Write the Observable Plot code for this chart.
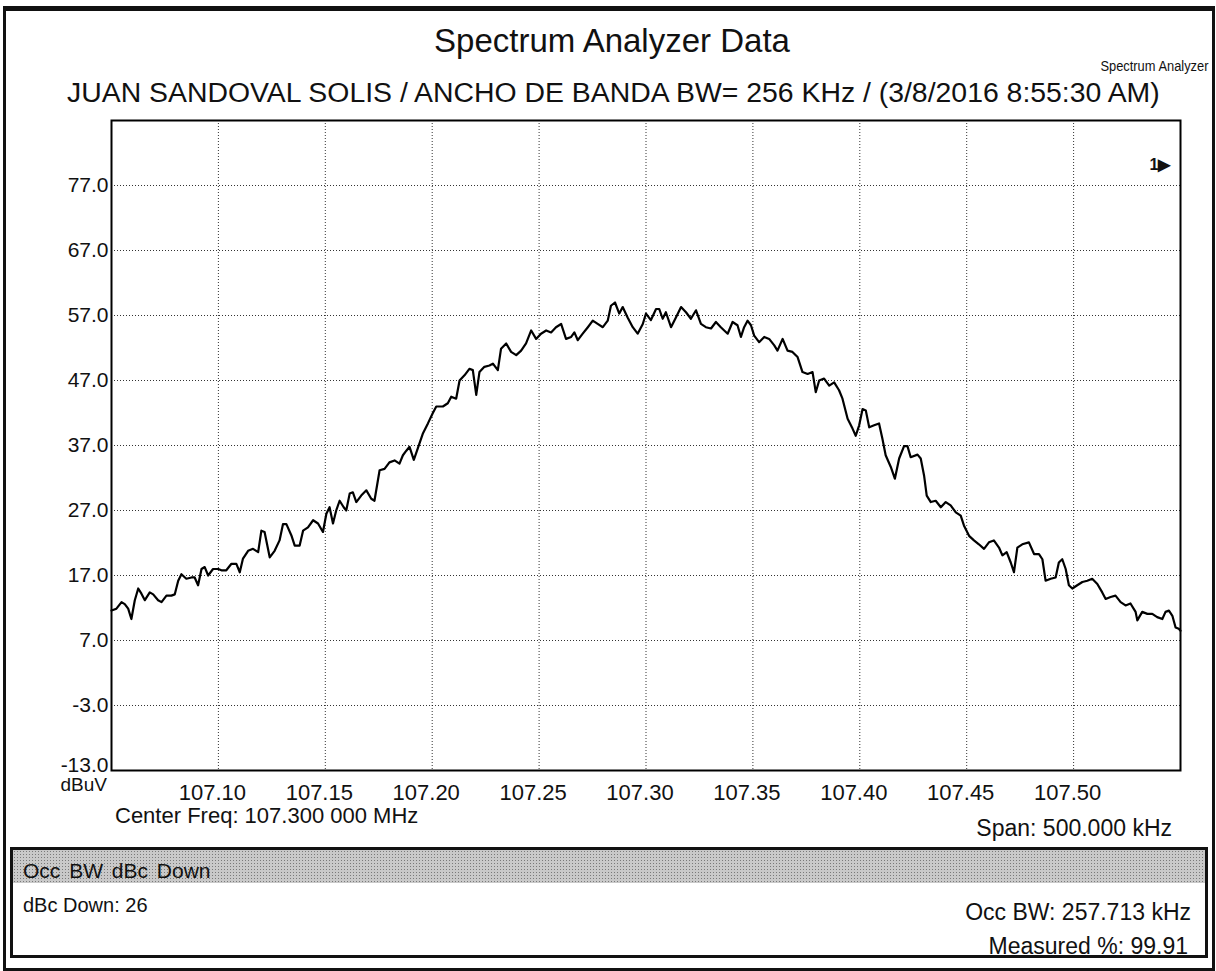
<!DOCTYPE html>
<html><head><meta charset="utf-8">
<script src="https://cdn.jsdelivr.net/npm/d3@7"></script>
<script src="https://cdn.jsdelivr.net/npm/@observablehq/plot@0.6"></script>
<style>
body{margin:0;background:#fff;}
#page{position:relative;width:1216px;height:971px;overflow:hidden;font-family:"Liberation Sans",Arial,sans-serif;color:#111;}
.abs{position:absolute;white-space:nowrap;line-height:1;}
#chart{position:absolute;left:0;top:110px;}
#panel{position:absolute;left:10px;top:847px;width:1192px;height:105px;border:3px solid #111;}
#strip{position:absolute;left:0;top:0;width:100%;height:33px;background-color:#c9c9c9;background-image:radial-gradient(#7a7a7a 0.7px,transparent 0.9px);background-size:3px 3px;}
.yl text{font-family:"Liberation Sans Narrow","Liberation Sans",Arial,sans-serif;}
</style></head><body>
<div id="page">
  <div class="abs" style="left:3px;top:6px;width:1206px;height:957px;border:3px solid #111;border-top-width:5px;"></div>
  <div class="abs" id="title" style="left:0;width:1224px;text-align:center;top:24px;font-size:33px;"></div>
  <div class="abs" id="subtitle" style="left:67px;top:78px;font-size:28.4px;"></div>
  <div class="abs" id="corner" style="right:8px;top:59px;font-size:14px;transform:scaleX(0.92);transform-origin:right center;"></div>
  <div id="chart"></div>
  <div class="abs" id="unit" style="right:1109px;top:775px;font-size:19px;font-family:'Liberation Sans Narrow','Liberation Sans',Arial,sans-serif;"></div>
  <div class="abs" id="center" style="left:115px;top:805px;font-size:22px;"></div>
  <div class="abs" id="span" style="right:44px;top:817px;font-size:23px;"></div>
  <div id="panel">
    <div id="strip"></div>
    <div class="abs" id="p1" style="left:10px;top:10px;font-size:21px;word-spacing:3px;"></div>
    <div class="abs" id="p2" style="left:10px;top:45px;font-size:20px;"></div>
    <div class="abs" id="p3" style="right:14px;top:51px;font-size:23px;"></div>
    <div class="abs" id="p4" style="right:17px;top:85px;font-size:23px;"></div>
  </div>
</div>
<script>
const titleText = "Spectrum Analyzer Data";
const subtitleText = "JUAN SANDOVAL SOLIS / ANCHO DE BANDA BW= 256 KHz / (3/8/2016 8:55:30 AM)";
const cornerText = "Spectrum Analyzer";
const unitText = "dBuV";
const centerText = "Center Freq: 107.300 000 MHz";
const spanText = "Span: 500.000 kHz";
const panelHeader = "Occ BW dBc Down";
const panelTexts = ["dBc Down: 26", "Occ BW: 257.713 kHz", "Measured %: 99.91"];
const markerText = "1\u25B6";

const xTicks = [107.10, 107.15, 107.20, 107.25, 107.30, 107.35, 107.40, 107.45, 107.50];
const yTicks = [-13, -3, 7, 17, 27, 37, 47, 57, 67, 77];
const xDomain = [107.05, 107.55];
const yDomain = [-13, 87];

// Trace: frequency (MHz) and level (dBuV)
const freq = [
107.0500,107.0523,107.0547,107.0562,107.0578,107.0593,107.0609,107.0625,107.0640,107.0656,
107.0679,107.0695,107.0718,107.0734,107.0757,107.0780,107.0796,107.0812,107.0827,107.0850,
107.0874,107.0889,107.0905,107.0921,107.0936,107.0952,107.0975,107.0999,107.1014,107.1037,
107.1061,107.1084,107.1100,107.1115,107.1139,107.1162,107.1186,107.1201,107.1216,107.1240,
107.1263,107.1286,107.1302,107.1318,107.1341,107.1357,107.1380,107.1396,107.1419,107.1443,
107.1466,107.1489,107.1505,107.1520,107.1536,107.1551,107.1567,107.1586,107.1598,107.1614,
107.1629,107.1645,107.1668,107.1692,107.1715,107.1730,107.1754,107.1777,107.1800,107.1824,
107.1847,107.1863,107.1879,107.1894,107.1914,107.1933,107.1957,107.1980,107.2003,107.2019,
107.2050,107.2073,107.2089,107.2112,107.2128,107.2151,107.2174,107.2190,107.2206,107.2221,
107.2244,107.2268,107.2284,107.2307,107.2322,107.2346,107.2369,107.2393,107.2416,107.2439,
107.2463,107.2486,107.2509,107.2533,107.2556,107.2579,107.2603,107.2626,107.2650,107.2665,
107.2681,107.2704,107.2728,107.2751,107.2774,107.2798,107.2821,107.2836,107.2855,107.2875,
107.2891,107.2914,107.2938,107.2961,107.2985,107.3000,107.3023,107.3047,107.3062,107.3078,
107.3093,107.3117,107.3140,107.3164,107.3187,107.3210,107.3234,107.3257,107.3280,107.3304,
107.3327,107.3350,107.3382,107.3405,107.3428,107.3444,107.3459,107.3475,107.3491,107.3506,
107.3529,107.3553,107.3576,107.3600,107.3615,107.3639,107.3662,107.3685,107.3709,107.3732,
107.3756,107.3779,107.3794,107.3810,107.3833,107.3857,107.3880,107.3903,107.3919,107.3943,
107.3966,107.3981,107.3997,107.4013,107.4028,107.4044,107.4067,107.4090,107.4106,107.4121,
107.4145,107.4164,107.4184,107.4207,107.4223,107.4238,107.4270,107.4285,107.4301,107.4313,
107.4332,107.4355,107.4379,107.4402,107.4425,107.4449,107.4472,107.4487,107.4511,107.4534,
107.4557,107.4581,107.4604,107.4627,107.4651,107.4667,107.4687,107.4706,107.4721,107.4737,
107.4760,107.4791,107.4815,107.4838,107.4854,107.4869,107.4893,107.4916,107.4931,107.4947,
107.4963,107.4978,107.4994,107.5017,107.5041,107.5064,107.5087,107.5111,107.5134,107.5150,
107.5173,107.5196,107.5220,107.5243,107.5266,107.5290,107.5298,107.5321,107.5345,107.5368,
107.5391,107.5415,107.5430,107.5446,107.5462,107.5477,107.5492,107.5500
];
const level = [
11.6,11.9,12.9,12.6,11.9,10.3,13.2,15.0,14.2,13.2,
14.4,14.1,13.2,12.9,13.9,13.9,14.1,16.2,17.2,16.5,
16.7,16.7,15.5,18.0,18.3,17.0,18.0,18.0,17.8,17.8,
18.8,18.8,17.5,19.6,20.8,21.1,20.6,23.9,23.7,19.8,
20.8,22.4,24.9,24.9,23.2,21.6,21.6,23.9,24.4,25.5,
25.0,23.7,26.5,27.5,25.0,27.0,28.5,27.5,27.0,29.6,
29.8,28.3,29.3,30.1,28.8,28.5,33.2,33.4,34.4,34.7,
34.2,35.5,36.2,36.8,34.8,36.6,38.9,40.4,42.0,43.0,
43.0,43.5,44.5,44.2,47.0,47.8,48.8,48.6,44.8,48.3,
49.1,49.3,49.6,48.6,51.9,52.7,51.4,50.9,51.6,52.7,
54.7,53.4,54.2,54.7,54.4,55.2,55.7,53.4,53.7,54.4,
53.2,54.2,55.2,56.2,55.7,55.2,56.2,58.5,59.0,57.3,
58.3,56.7,55.2,54.2,55.7,57.3,56.3,58.0,58.0,56.5,
57.5,55.2,56.7,58.3,57.5,56.5,57.8,55.7,55.2,55.0,
56.0,55.2,54.2,56.0,55.5,53.7,55.2,56.2,55.5,53.9,
52.9,53.7,53.4,52.4,51.6,53.4,51.6,51.4,50.6,48.3,
48.0,48.3,45.2,47.0,47.3,46.2,46.7,45.5,44.2,41.1,
39.6,38.5,40.1,42.6,42.4,39.8,40.1,40.4,38.0,35.5,
33.7,31.9,35.0,36.9,36.9,35.2,35.6,35.0,32.3,29.3,
28.3,28.5,27.5,28.3,27.8,26.7,26.2,24.7,23.1,22.4,
21.8,21.1,22.1,22.4,21.3,20.1,20.6,19.0,17.5,21.3,
21.8,22.1,20.3,20.3,19.5,16.2,16.5,16.7,19.0,19.5,
18.0,15.5,15.0,15.5,16.0,16.2,16.5,15.7,14.4,13.4,
13.7,13.9,12.9,12.4,12.7,11.4,10.1,11.4,11.1,11.1,
10.6,10.3,11.4,11.6,10.8,9.0,8.8,8.5
];

const trace = freq.map((f, i) => ({f, db: level[i]}));

document.getElementById("title").textContent = titleText;
document.getElementById("subtitle").textContent = subtitleText;
document.getElementById("corner").textContent = cornerText;
document.getElementById("unit").textContent = unitText;
document.getElementById("center").textContent = centerText;
document.getElementById("span").textContent = spanText;
document.getElementById("p1").textContent = panelHeader;
document.getElementById("p2").textContent = panelTexts[0];
document.getElementById("p3").textContent = panelTexts[1];
document.getElementById("p4").textContent = panelTexts[2];

const gridStyle = {stroke: "#000", strokeOpacity: 0.8, strokeWidth: 1, strokeDasharray: "1,2"};
const yFmt = d => d3.format(".1f")(d).replace("\u2212", "-");

const chart = Plot.plot({
  width: 1216,
  height: 720,
  marginTop: 10,
  marginBottom: 60,
  marginLeft: 111,
  marginRight: 36,
  style: {fontFamily: "'Liberation Sans', Arial, sans-serif", fontSize: "22px", color: "#111", background: "transparent", overflow: "visible"},
  x: {domain: xDomain, label: null},
  y: {domain: yDomain, label: null},
  marks: [
    Plot.gridX(xTicks, gridStyle),
    Plot.gridY(yTicks.filter(d => d > yDomain[0]), gridStyle),
    Plot.axisX(xTicks, {tickSize: 0, tickPadding: 14, dx: -6, tickFormat: d3.format(".2f"), fontSize: 22}),
    Plot.axisY(yTicks.filter(d => d > yDomain[0]), {tickSize: 0, tickPadding: 3, tickFormat: yFmt, fontSize: 21, className: "yl"}),
    Plot.axisY([yDomain[0]], {tickSize: 0, tickPadding: 3, dy: -5, tickFormat: yFmt, fontSize: 21, className: "yl"}),
    Plot.line(trace, {x: "f", y: "db", stroke: "#000", strokeWidth: 2.2}),
    Plot.frame({stroke: "#000", strokeWidth: 2}),
    Plot.text([markerText], {frameAnchor: "top-right", text: d => d, dx: -10, dy: 38, fontSize: 16, fontWeight: "bold", textAnchor: "end"})
  ]
});
document.getElementById("chart").append(chart);
</script>
</body></html>
